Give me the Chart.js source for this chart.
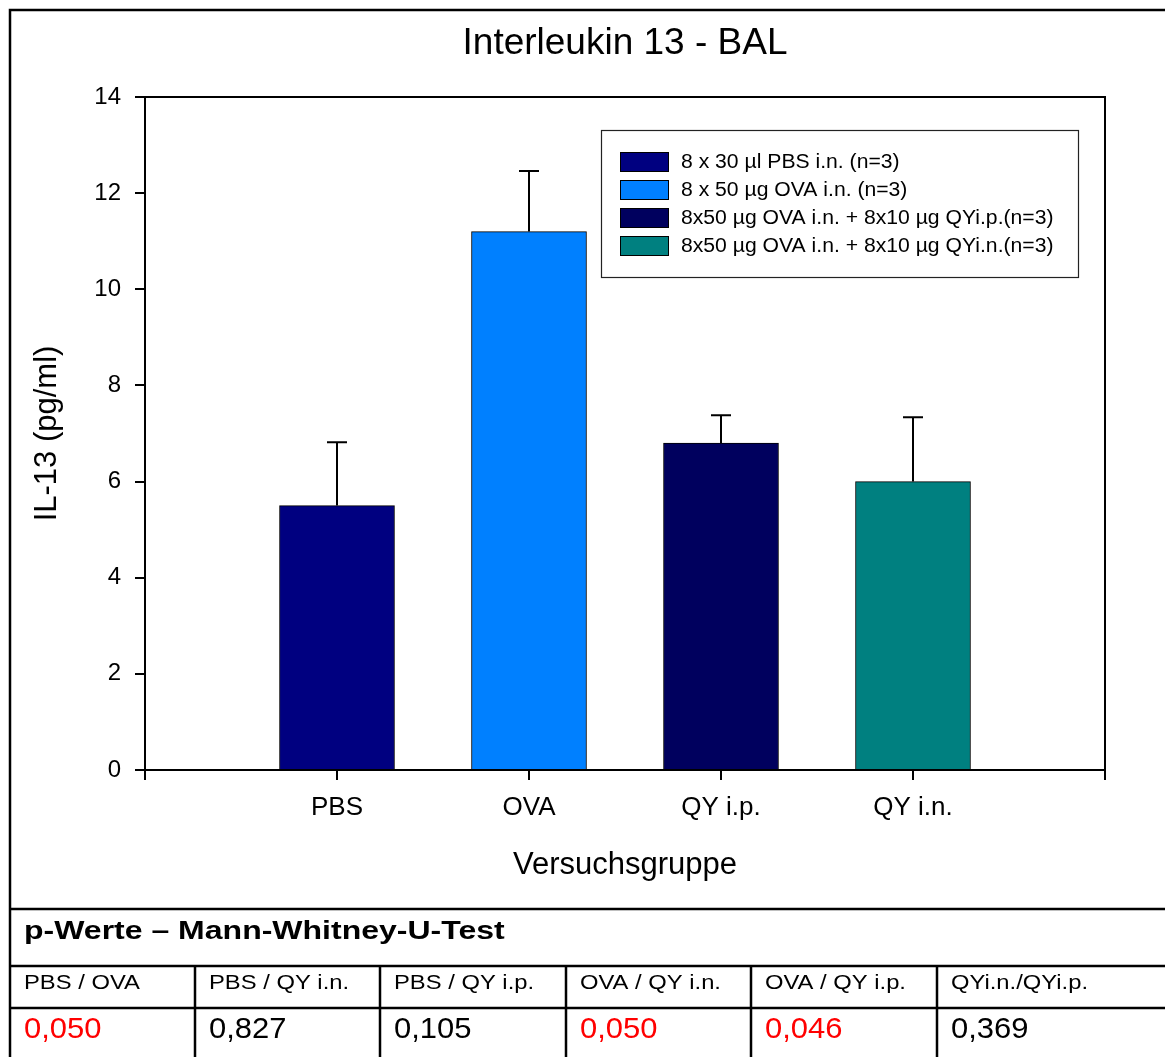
<!DOCTYPE html>
<html>
<head>
<meta charset="utf-8">
<script src="https://cdn.jsdelivr.net/npm/chart.js@4.4.1/dist/chart.umd.min.js"></script>
<style>
  html, body { margin: 0; padding: 0; background: #fff; }
  #wrap { width: 1165px; height: 1057px; position: relative; }
</style>
</head>
<body>
<div id="wrap"><canvas id="c"></canvas></div>
<script>
// ---- data ----
const categories = ['PBS', 'OVA', 'QY i.p.', 'QY i.n.'];
const means = [5.5, 11.2, 6.8, 6.0];
const errors = [1.32, 1.26, 0.58, 1.34];
const legendLabels = [
  '8 x 30 µl PBS i.n. (n=3)',
  '8 x 50 µg OVA i.n. (n=3)',
  '8x50 µg OVA i.n. + 8x10 µg QYi.p.(n=3)',
  '8x50 µg OVA i.n. + 8x10 µg QYi.n.(n=3)'
];
const barColors = ['#000080', '#0080FF', '#00005E', '#008080'];
const yTicks = [0, 2, 4, 6, 8, 10, 12, 14];
const tableTitle = 'p-Werte \u2013 Mann-Whitney-U-Test';
const pairs = ['PBS / OVA', 'PBS / QY i.n.', 'PBS / QY i.p.', 'OVA / QY i.n.', 'OVA / QY i.p.', 'QYi.n./QYi.p.'];
const pValues = ['0,050', '0,827', '0,105', '0,050', '0,046', '0,369'];

const FONT = '"Liberation Sans", Arial, Helvetica, sans-serif';
const labels = [''].concat(categories, ['']);

const datasets = categories.map((c, i) => ({
  label: legendLabels[i],
  data: labels.map((l, j) => (j === i + 1 ? means[i] : null)),
  errs: labels.map((l, j) => (j === i + 1 ? errors[i] : null)),
  backgroundColor: barColors[i],
  borderColor: '#000',
  borderWidth: 1,
  borderSkipped: 'start',
  barThickness: 115,
  grouped: false
}));

function textScaled(ctx, txt, x, y, sx) {
  ctx.save();
  ctx.translate(x, y);
  ctx.scale(sx, 1);
  ctx.fillText(txt, 0, 0);
  ctx.restore();
}

const decor = {
  id: 'decor',
  afterDatasetsDraw(chart) {
    const ctx = chart.ctx;
    const xs = chart.scales.x, ys = chart.scales.y;
    ctx.save();
    ctx.strokeStyle = '#000';
    ctx.lineWidth = 2;
    chart.data.datasets.forEach((ds) => {
      ds.data.forEach((v, j) => {
        if (v === null) return;
        const e = ds.errs[j];
        const x = xs.getPixelForValue(j);
        const y0 = ys.getPixelForValue(v);
        const y1 = ys.getPixelForValue(v + e);
        ctx.beginPath();
        ctx.moveTo(x, y0); ctx.lineTo(x, y1);
        ctx.moveTo(x - 10, y1); ctx.lineTo(x + 10, y1);
        ctx.stroke();
      });
    });
    ctx.restore();
  },
  afterDraw(chart) {
    const ctx = chart.ctx;
    const a = chart.chartArea;
    ctx.save();
    // frame top & right
    ctx.strokeStyle = '#000';
    ctx.lineWidth = 2;
    ctx.beginPath();
    ctx.moveTo(a.left - 1, a.top); ctx.lineTo(a.right, a.top); ctx.lineTo(a.right, a.bottom);
    ctx.stroke();

    // legend
    const lx = 601, ly = 130, lw = 477, lh = 147;
    ctx.lineWidth = 1.2;
    ctx.strokeStyle = '#222';
    ctx.strokeRect(lx + 0.5, ly + 0.5, lw, lh);
    ctx.font = '19.5px ' + FONT;
    ctx.textBaseline = 'middle';
    ctx.textAlign = 'left';
    legendLabels.forEach((t, i) => {
      const ry = 152 + i * 28;
      ctx.fillStyle = barColors[i];
      ctx.fillRect(620, ry, 49, 20);
      ctx.strokeStyle = '#000';
      ctx.lineWidth = 1;
      ctx.strokeRect(620.5, ry + 0.5, 48, 19);
      ctx.fillStyle = '#000';
      textScaled(ctx, t, 681, ry + 11, 1.085);
    });

    // outer border + table
    const W = chart.width, H = chart.height;
    ctx.strokeStyle = '#000';
    ctx.lineWidth = 2.5;
    ctx.beginPath();
    ctx.moveTo(10, H); ctx.lineTo(10, 10); ctx.lineTo(W, 10);
    ctx.moveTo(10, 909); ctx.lineTo(W, 909);
    ctx.moveTo(10, 966); ctx.lineTo(W, 966);
    ctx.moveTo(10, 1008); ctx.lineTo(W, 1008);
    const cols = [10, 195, 380, 566, 751, 937];
    cols.slice(1).forEach(cx => { ctx.moveTo(cx, 966); ctx.lineTo(cx, H); });
    ctx.stroke();

    ctx.textBaseline = 'alphabetic';
    ctx.fillStyle = '#000';
    ctx.font = 'bold 25.5px ' + FONT;
    textScaled(ctx, tableTitle, 24, 939, 1.255);
    ctx.font = '20.5px ' + FONT;
    pairs.forEach((p, i) => textScaled(ctx, p, cols[i] + 14, 989, 1.16));
    ctx.font = '29.5px ' + FONT;
    pValues.forEach((p, i) => {
      const num = parseFloat(p.replace(',', '.'));
      ctx.fillStyle = num <= 0.05 ? '#FF0000' : '#000';
      textScaled(ctx, p, cols[i] + 14, 1038, 1.05);
    });
    ctx.restore();
  }
};

new Chart(document.getElementById('c'), {
  type: 'bar',
  data: { labels, datasets },
  options: {
    responsive: true,
    maintainAspectRatio: false,
    animation: false,
    layout: { padding: { top: 0, left: 0, right: 60, bottom: 148 } },
    plugins: {
      legend: { display: false },
      tooltip: { enabled: false },
      title: {
        display: true,
        text: 'Interleukin 13 - BAL',
        fullSize: false,
        color: '#000',
        font: { family: FONT, size: 37, weight: 'normal', lineHeight: 1.2 },
        padding: { top: 22, bottom: 30.6 }
      }
    },
    scales: {
      x: {
        type: 'category',
        offset: false,
        afterFit(s) { s.height = 139; },
        grid: { display: true, offset: false, drawOnChartArea: false, drawTicks: true, tickLength: 10, color: '#000', lineWidth: 2 },
        border: { display: true, color: '#000', width: 2 },
        ticks: { color: '#000', font: { family: FONT, size: 26 }, padding: 12, autoSkip: false, maxRotation: 0 },
        title: { display: true, text: 'Versuchsgruppe', color: '#000', font: { family: FONT, size: 31, lineHeight: 1.2 }, padding: { top: 4, bottom: 25 } }
      },
      y: {
        min: 0, max: 14,
        afterFit(s) { s.width = 145; },
        afterBuildTicks(s) { s.ticks = yTicks.map(v => ({ value: v })); },
        grid: { display: true, drawOnChartArea: false, drawTicks: true, tickLength: 10, color: '#000', lineWidth: 2 },
        border: { display: true, color: '#000', width: 2 },
        ticks: { color: '#000', font: { family: FONT, size: 24 }, padding: 14 },
        title: { display: true, text: 'IL-13 (pg/ml)', color: '#000', font: { family: FONT, size: 31, lineHeight: 1.2 }, padding: { top: 29, bottom: 0 } }
      }
    }
  },
  plugins: [decor]
});
</script>
</body>
</html>
